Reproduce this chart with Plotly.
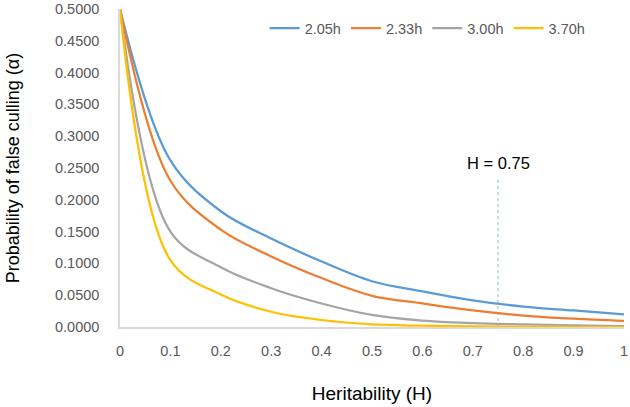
import plotly.graph_objects as go

heritability = [0, 0.1, 0.2, 0.3, 0.4, 0.5, 0.6, 0.7, 0.8, 0.9, 1.0]
alpha_205 = [0.5, 0.262, 0.182, 0.139, 0.103, 0.072, 0.056, 0.042, 0.032, 0.026, 0.020]
alpha_233 = [0.5, 0.230, 0.153, 0.111, 0.077, 0.049, 0.037, 0.026, 0.018, 0.013, 0.0095]
alpha_300 = [0.5, 0.150, 0.094, 0.061, 0.037, 0.019, 0.010, 0.006, 0.004, 0.0025, 0.0015]
alpha_370 = [0.5, 0.105, 0.051, 0.024, 0.011, 0.004, 0.002, 0.001, 0.0006, 0.0004, 0.0002]
series_names = ["2.05h", "2.33h", "3.00h", "3.70h"]
series_colors = ["#5B9BD5", "#ED7D31", "#A5A5A5", "#FFC000"]
x_ticks = [0, 0.1, 0.2, 0.3, 0.4, 0.5, 0.6, 0.7, 0.8, 0.9, 1]
x_tick_labels = ["0", "0.1", "0.2", "0.3", "0.4", "0.5", "0.6", "0.7", "0.8", "0.9", "1"]
y_ticks = [0, 0.05, 0.1, 0.15, 0.2, 0.25, 0.3, 0.35, 0.4, 0.45, 0.5]
marker_h = 0.75

FONT = "Liberation Sans, Arial, sans-serif"
fig = go.Figure()
for name, vals, col in zip(series_names, [alpha_205, alpha_233, alpha_300, alpha_370], series_colors):
    fig.add_trace(go.Scatter(x=heritability, y=vals, mode="lines", name=name,
                             line=dict(color=col, width=2.25, shape="spline", smoothing=1.0)))

fig.add_shape(type="line", x0=marker_h, x1=marker_h, y0=0, y1=0.231, xref="x", yref="y",
              line=dict(color="#9DC3E6", width=1.2, dash="dot"), layer="below")
fig.add_annotation(x=marker_h, y=0.258, xref="x", yref="y", text="H = 0.75",
                   showarrow=False, font=dict(family=FONT, size=16.5, color="#000000"))

fig.update_layout(
    width=630, height=407,
    margin=dict(l=120, r=6, t=9, b=80, autoexpand=False),
    paper_bgcolor="white", plot_bgcolor="white",
    font=dict(family=FONT, size=14.5, color="#595959"),
    showlegend=True,
    legend=dict(orientation="h", x=0.287, y=0.94, xanchor="left", yanchor="middle",
                font=dict(family=FONT, size=14.5, color="#595959"),
                bgcolor="rgba(0,0,0,0)", itemwidth=30, tracegroupgap=0),
    xaxis=dict(range=[0, 1], tickvals=x_ticks, ticktext=x_tick_labels, automargin=False,
               showgrid=False, zeroline=False, showline=True, linecolor="#D9D9D9", linewidth=1.5,
               ticks="", ticklabelstandoff=10,
               title=dict(text="Heritability (H)", font=dict(family=FONT, size=19, color="#000000"),
                          standoff=29)),
    yaxis=dict(range=[0, 0.5], tickvals=y_ticks, tickformat=".4f", automargin=False,
               showgrid=False, zeroline=False, showline=True, linecolor="#D9D9D9", linewidth=1.5,
               ticks="", ticklabelstandoff=16,
               title=dict(text="Probability of false culling (α)",
                          font=dict(family=FONT, size=18, color="#000000"), standoff=31)),
)

fig.write_html("out.html", config={"displayModeBar": False},
               post_script="document.body.style.margin='0';")
